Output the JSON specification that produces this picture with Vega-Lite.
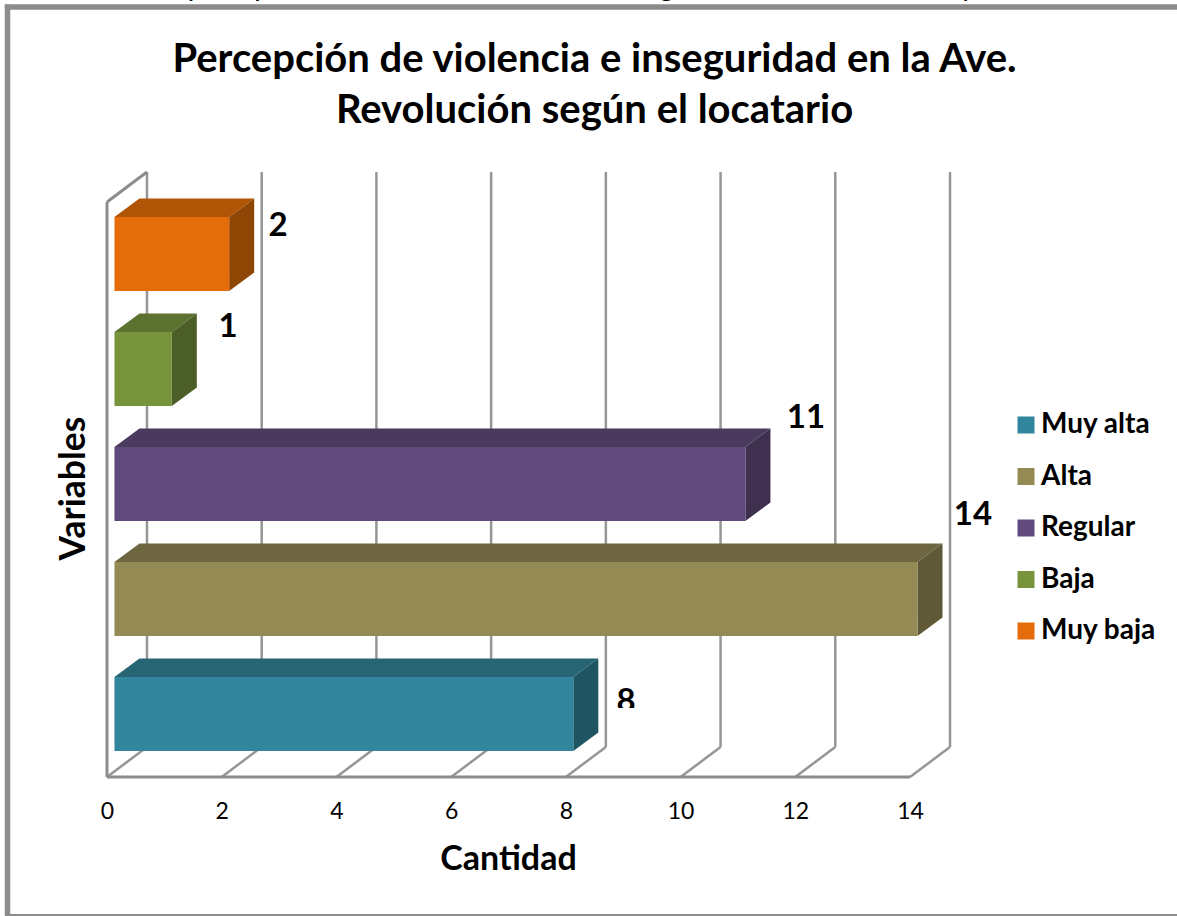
{
"$schema":"https://vega.github.io/schema/vega-lite/v6.json",
"autosize":{"type":"none"},
"padding":{"left":107,"top":172,"right":227,"bottom":139},
"width":843,"height":605,
"background":"white",
"view":{"stroke":null},
"config":{"font":"Lato"},
"title":{"text":["Percepción de violencia e inseguridad en la Ave.","Revolución según el locatario"],"font":"Lato","fontSize":40,"fontWeight":"bold","color":"#000000","lineHeight":51,"anchor":"middle","dx":66,"offset":-159},
"datasets":{
"barras":[
{"Variable":"Muy alta","Cantidad":8,"Orden":1},
{"Variable":"Alta","Cantidad":14,"Orden":2},
{"Variable":"Regular","Cantidad":11,"Orden":3},
{"Variable":"Baja","Cantidad":1,"Orden":4},
{"Variable":"Muy baja","Cantidad":2,"Orden":5}],
"ticks":[{"t":0},{"t":2},{"t":4},{"t":6},{"t":8},{"t":10},{"t":12},{"t":14}],
"corte":[{"letra":"p","pos":1.55},{"letra":"p","pos":2.71},{"letra":"g","pos":9.76},{"letra":"y","pos":15.01}]
},
"resolve":{"scale":{"color":"independent"}},
"layer":[
{"data":{"name":"ticks"},"transform":[{"calculate":"datum.t+0.697","as":"tb"}],
 "mark":{"type":"rule","stroke":"#969696","strokeWidth":2.5},
 "encoding":{
 "x":{"field":"t","type":"quantitative","scale":{"domain":[0,14.697],"nice":false,"zero":false},
  "axis":{"values":[0,2,4,6,8,10,12,14],"format":"d","domain":false,"ticks":false,"grid":false,"labelFont":"Lato","labelFontSize":23,"labelColor":"#000000","labelPadding":23,"labelFlush":false,"labelOverlap":false,"labelBound":false,"title":"Cantidad","titleFont":"Lato","titleFontSize":34,"titleFontWeight":"bold","titleColor":"#000000","titleX":401,"titleY":92,"titleAnchor":"middle","titleAlign":"center","titleBaseline":"alphabetic"}},
 "x2":{"field":"tb"},
 "y":{"datum":0.4522,"type":"quantitative","scale":{"domain":[0.4522,5.713],"nice":false,"zero":false},
  "axis":{"labels":false,"domain":false,"ticks":false,"grid":false,"title":"Variables","titleFont":"Lato","titleFontSize":35.5,"titleFontWeight":"bold","titleColor":"#000000","titleAngle":270,"titleX":-34,"titleY":316,"titleAlign":"center","titleBaseline":"middle"}},
 "y2":{"datum":0.713}}},
{"data":{"name":"ticks"},"transform":[{"calculate":"datum.t+0.697","as":"tb"}],
 "mark":{"type":"rule","stroke":"#969696","strokeWidth":2.5},
 "encoding":{
 "x":{"field":"tb","type":"quantitative","scale":{"domain":[0,14.697],"nice":false,"zero":false}},
 "y":{"datum":0.713,"type":"quantitative","scale":{"domain":[0.4522,5.713],"nice":false,"zero":false}},
 "y2":{"datum":5.713}}},
{"data":{"values":[{"a":0,"b":14,"c":0.4522,"d":0.4522},{"a":0,"b":0,"c":0.4522,"d":5.452},{"a":0,"b":0.697,"c":5.452,"d":5.713}]},
 "mark":{"type":"rule","stroke":"#8c8c8c","strokeWidth":3},
 "encoding":{
 "x":{"field":"a","type":"quantitative","scale":{"domain":[0,14.697],"nice":false,"zero":false}},
 "x2":{"field":"b"},
 "y":{"field":"c","type":"quantitative","scale":{"domain":[0.4522,5.713],"nice":false,"zero":false}},
 "y2":{"field":"d"}}},
{"data":{"values":[{"a":-1.735,"b":-1.735,"c":7.17,"d":-0.748,"w":5.5},{"a":-1.78,"b":18.66,"c":7.148,"d":7.148,"w":5.5},{"a":-1.78,"b":18.66,"c":-0.748,"d":-0.748,"w":2}]},
 "mark":{"type":"rule","stroke":"#8c8c8c"},
 "encoding":{
 "x":{"field":"a","type":"quantitative","scale":{"domain":[0,14.697],"nice":false,"zero":false}},
 "x2":{"field":"b"},
 "y":{"field":"c","type":"quantitative","scale":{"domain":[0.4522,5.713],"nice":false,"zero":false}},
 "y2":{"field":"d"},
 "strokeWidth":{"field":"w","type":"quantitative","scale":null}}},
{"data":{"name":"corte"},"transform":[{"calculate":"7.243","as":"alto"}],
 "mark":{"type":"text","font":"Lato","fontSize":30,"align":"center","baseline":"alphabetic","color":"#000000"},
 "encoding":{
 "x":{"field":"pos","type":"quantitative","scale":{"domain":[0,14.697],"nice":false,"zero":false}},
 "y":{"field":"alto","type":"quantitative","scale":{"domain":[0.4522,5.713],"nice":false,"zero":false}},
 "text":{"field":"letra"}}},
{"data":{"name":"barras"},
 "transform":[{"calculate":"[0,1]","as":"d"},{"flatten":["d"]},
  {"calculate":"0.13+datum.d*0.436","as":"xa"},{"calculate":"0.13+datum.Cantidad+datum.d*0.436","as":"xb"},{"calculate":"datum.Orden+0.3217+datum.d*0.161","as":"ya"}],
 "mark":{"type":"area","orient":"horizontal","line":false},
 "encoding":{
 "y":{"field":"ya","type":"quantitative","scale":{"domain":[0.4522,5.713],"nice":false,"zero":false},"stack":null},
 "x":{"field":"xa","type":"quantitative","scale":{"domain":[0,14.697],"nice":false,"zero":false},"stack":null},
 "x2":{"field":"xb"},
 "color":{"field":"Variable","type":"nominal","legend":null,"scale":{"domain":["Muy alta","Alta","Regular","Baja","Muy baja"],"range":["#276574","#6E6640","#4A3A5E","#5C7230","#B05505"]}}}},
{"data":{"name":"barras"},
 "transform":[{"calculate":"[0,1]","as":"d"},{"flatten":["d"]},
  {"calculate":"0.13+datum.Cantidad+datum.d*0.436","as":"xa"},{"calculate":"datum.Orden+0.3217+datum.d*0.161","as":"ya"},{"calculate":"datum.Orden-0.3217+datum.d*0.161","as":"yb"}],
 "mark":{"type":"area","orient":"vertical","line":false},
 "encoding":{
 "x":{"field":"xa","type":"quantitative","scale":{"domain":[0,14.697],"nice":false,"zero":false},"stack":null},
 "y":{"field":"ya","type":"quantitative","scale":{"domain":[0.4522,5.713],"nice":false,"zero":false},"stack":null},
 "y2":{"field":"yb"},
 "color":{"field":"Variable","type":"nominal","legend":null,"scale":{"domain":["Muy alta","Alta","Regular","Baja","Muy baja"],"range":["#1F5463","#5F5938","#3F3050","#4D5F28","#8F4604"]}}}},
{"data":{"name":"barras"},
 "transform":[{"calculate":"0.13","as":"xa"},{"calculate":"0.13+datum.Cantidad","as":"xb"},{"calculate":"datum.Orden+0.3217","as":"ya"},{"calculate":"datum.Orden-0.3217","as":"yb"}],
 "mark":{"type":"rect"},
 "encoding":{
 "x":{"field":"xa","type":"quantitative","scale":{"domain":[0,14.697],"nice":false,"zero":false}},
 "x2":{"field":"xb"},
 "y":{"field":"ya","type":"quantitative","scale":{"domain":[0.4522,5.713],"nice":false,"zero":false}},
 "y2":{"field":"yb"},
 "color":{"field":"Variable","type":"nominal","scale":{"domain":["Muy alta","Alta","Regular","Baja","Muy baja"],"range":["#31859C","#948A54","#604A7B","#77933C","#E46C0A"]},
  "legend":{"orient":"none","legendX":905,"legendY":239,"title":null,"symbolType":"square","symbolSize":289,"symbolStrokeWidth":0,"symbolOpacity":1,"labelFont":"Lato","labelFontSize":28,"labelFontWeight":"bold","labelColor":"#000000","labelOffset":1,"rowPadding":23.5,"labelLimit":200}}}},
{"data":{"name":"barras"},
 "transform":[{"calculate":"{'Muy baja':0.981,'Baja':1.109,'Regular':1.186,'Alta':1.098,'Muy alta':1.048}[datum.Variable]+datum.Cantidad","as":"xl"},
  {"calculate":"{'Muy baja':0.245,'Baja':0.367,'Regular':0.574,'Alta':0.73,'Muy alta':0.108}[datum.Variable]+datum.Orden","as":"yl"}],
 "mark":{"type":"text","font":"Lato","fontSize":33,"fontWeight":"bold","color":"#000000","align":"center","baseline":"middle"},
 "encoding":{
 "x":{"field":"xl","type":"quantitative","scale":{"domain":[0,14.697],"nice":false,"zero":false}},
 "y":{"field":"yl","type":"quantitative","scale":{"domain":[0.4522,5.713],"nice":false,"zero":false}},
 "text":{"field":"Cantidad","type":"quantitative"}}},
{"data":{"values":[{"a":8.77,"b":9.38,"c":1.052,"d":0.93}]},
 "mark":{"type":"rect","fill":"#ffffff"},
 "encoding":{
 "x":{"field":"a","type":"quantitative","scale":{"domain":[0,14.697],"nice":false,"zero":false}},
 "x2":{"field":"b"},
 "y":{"field":"c","type":"quantitative","scale":{"domain":[0.4522,5.713],"nice":false,"zero":false}},
 "y2":{"field":"d"}}}
]
}
